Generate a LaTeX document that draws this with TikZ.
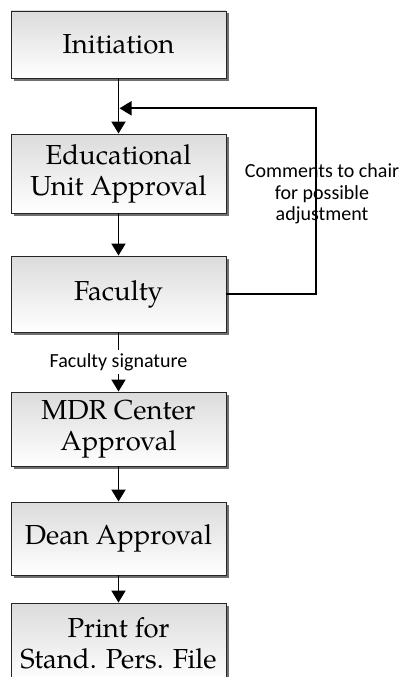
\documentclass[tikz,border=0pt]{standalone}
\usepackage{fontspec}
\setmainfont{TeX Gyre Pagella}
\newfontfamily\labelfont{Carlito}
\usetikzlibrary{arrows.meta,shadows}

\begin{document}
\begin{tikzpicture}[x=1pt,y=-1pt,
  stage/.style={draw=black!85, line width=0.9pt, top color=black!14, bottom color=white,
    minimum width=215pt, align=center, inner sep=0pt,
    font=\fontsize{27.5}{31}\selectfont,
    drop shadow={shadow xshift=2.5pt, shadow yshift=-2.5pt, fill=black!70, opacity=0.8}},
  flow/.style={line width=1.9pt, -{Triangle[length=12pt,width=14pt]}},
  note/.style={font=\labelfont\fontsize{20}{21.5}\selectfont, align=center}]

  \useasboundingbox (0,0) rectangle (399,677);
  \clip (0,0) rectangle (399,677);

  % process stages
  \node[stage, minimum height=67pt] (init)  at (118.5,44.5)  {Initiation};
  \node[stage, minimum height=79pt] (edu)   at (118.5,173.5) {Educational\\Unit Approval};
  \node[stage, minimum height=76pt] (fac)   at (118.5,294)   {Faculty};
  \node[stage, minimum height=74pt] (mdr)   at (118.5,429)   {MDR Center\\Approval};
  \node[stage, minimum height=73pt] (dean)  at (118.5,538.5) {Dean Approval};
  \node[stage, minimum height=80pt] (print) at (118.5,643)   {Print for\\Stand. Pers. File};

  % feedback loop label
  \node[note] (cmt) at (322,194) {Comments to chair\\for possible\\adjustment};

  % main flow
  \draw[flow] (init) -- (edu);
  \draw[flow] (edu) -- (fac);
  \draw[flow] (fac) -- node[note, fill=white, inner sep=3pt] (sig) {Faculty signature} (mdr);
  \draw[flow] (mdr) -- (dean);
  \draw[flow] (dean) -- (print);

  % loop back from Faculty to the Educational Unit
  \coordinate (turn) at (316,108.3);
  \coordinate (join) at (119.5,108.3);
  \draw[flow] (fac.east) -| (turn) -- (join);
\end{tikzpicture}
\end{document}
